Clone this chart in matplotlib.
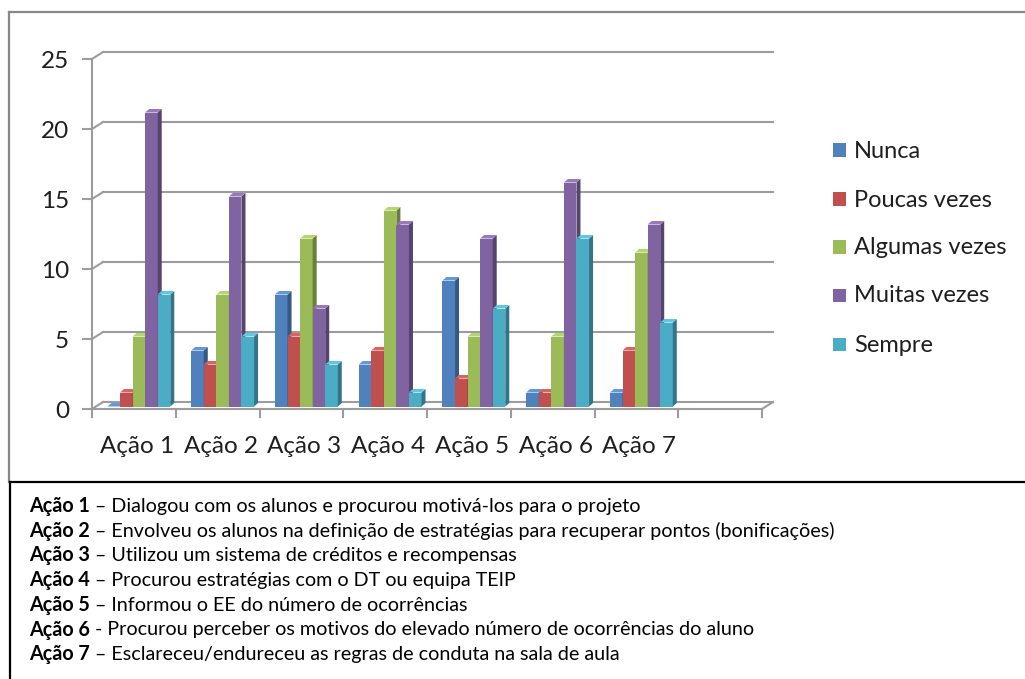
import matplotlib
matplotlib.use('Agg')
import matplotlib.pyplot as plt
from matplotlib.patches import Polygon, Rectangle
from matplotlib.lines import Line2D
import matplotlib.colors as mcolors
import numpy as np

# ---------------- data ----------------
categories = ['Ação 1', 'Ação 2', 'Ação 3', 'Ação 4', 'Ação 5', 'Ação 6', 'Ação 7']
series_names = ['Nunca', 'Poucas vezes', 'Algumas vezes', 'Muitas vezes', 'Sempre']
nunca = [0, 4, 8, 3, 9, 1, 1]
poucas_vezes = [1, 3, 5, 4, 2, 1, 4]
algumas_vezes = [5, 8, 12, 14, 5, 5, 11]
muitas_vezes = [21, 15, 7, 13, 12, 16, 13]
sempre = [8, 5, 3, 1, 7, 12, 6]
y_ticks = [0, 5, 10, 15, 20, 25]
colors = ['#4F81BD', '#C0504D', '#9BBB59', '#8064A2', '#4BACC6']
desc_heads = ['Ação 1', 'Ação 2', 'Ação 3', 'Ação 4', 'Ação 5', 'Ação 6', 'Ação 7']
desc_texts = [
    ' – Dialogou com os alunos e procurou motivá-los para o projeto',
    ' – Envolveu os alunos na definição de estratégias para recuperar pontos (bonificações)',
    ' – Utilizou um sistema de créditos e recompensas',
    ' – Procurou estratégias com o DT ou equipa TEIP',
    ' – Informou o EE do número de ocorrências',
    ' - Procurou perceber os motivos do elevado número de ocorrências do aluno',
    ' – Esclareceu/endureceu as regras de conduta na sala de aula',
]
series = [nunca, poucas_vezes, algumas_vezes, muitas_vezes, sempre]

plt.rcParams['font.family'] = ['Lato', 'DejaVu Sans']

W, H = 1025, 679
fig = plt.figure(figsize=(W / 100, H / 100), dpi=100)

# front plane of the 3D plot area (pixels)
x0p, x1p, y0p, y1p = 92, 762, 409, 59
ax = fig.add_axes([x0p / W, 1 - y0p / H, (x1p - x0p) / W, (y0p - y1p) / H])
n_slots = 8
ymax = 25
ax.set_xlim(0, n_slots)
ax.set_ylim(0, ymax)
ax.axis('off')

ux = n_slots / (x1p - x0p)   # data units per pixel (x)
uy = ymax / (y0p - y1p)      # data units per pixel (y)

grid_c = '#9c9c9c'
txt_c = '#1e1e1e'
lw = 1.5
bdx, bdy = 11 * ux, 7 * uy   # back-wall offset

# back wall gridlines and left diagonals
for v in y_ticks:
    ax.add_line(Line2D([bdx, n_slots + bdx], [v + bdy, v + bdy], color=grid_c, lw=lw, zorder=1, clip_on=False))
    ax.add_line(Line2D([0, bdx], [v, v], color=grid_c, lw=0, zorder=1, clip_on=False))
    ax.add_line(Line2D([0, bdx], [v, v + bdy], color=grid_c, lw=lw, zorder=1, clip_on=False))
    ax.add_line(Line2D([-9 * ux, 0], [v, v], color=grid_c, lw=lw, zorder=1, clip_on=False))
    ax.text(-23 * ux, v - 2 * uy, str(v), ha='right', va='center', fontsize=17.5, color=txt_c)

# left axis line
ax.add_line(Line2D([0, 0], [0, ymax], color=grid_c, lw=lw, zorder=1, clip_on=False))
# floor front edge, right diagonal
ax.add_line(Line2D([0, n_slots], [0, 0], color=grid_c, lw=lw, zorder=2, clip_on=False))
ax.add_line(Line2D([n_slots, n_slots + bdx], [0, bdy], color=grid_c, lw=lw, zorder=2, clip_on=False))
# x ticks
for k in range(n_slots + 1):
    ax.add_line(Line2D([k, k], [0, -8 * uy], color=grid_c, lw=lw, zorder=2, clip_on=False))

# bars
bw = 0.15
offx, offy = 5 * ux, 2.5 * uy
ddx, ddy = 4 * ux, 3.5 * uy
z = 3
for i, cat in enumerate(categories):
    start = i + (1 - bw * len(series)) / 2 + offx
    for j, vals in enumerate(series):
        v = vals[i]
        xl = start + j * bw
        xr = xl + bw
        c = colors[j]
        rgb = np.array(mcolors.to_rgb(c))
        side = rgb * 0.68
        top = np.clip(rgb * 1.08 + 0.05, 0, 1)
        ax.bar(xl, v, width=bw, bottom=offy, align='edge', color=c, zorder=z, lw=0)
        ax.add_patch(Polygon([(xr, offy), (xr, offy + v), (xr + ddx, offy + v + ddy), (xr + ddx, offy + ddy)],
                             closed=True, facecolor=side, edgecolor='none', zorder=z))
        ax.add_patch(Polygon([(xl, offy + v), (xr, offy + v), (xr + ddx, offy + v + ddy), (xl + ddx, offy + v + ddy)],
                             closed=True, facecolor=top, edgecolor='none', zorder=z))
        z += 1
    ax.text(i + 0.5 + 3 * ux, -44 * uy, cat, ha='center', va='baseline', fontsize=17.5, color=txt_c)

# legend
leg_x = 833
leg_ys = [150, 199, 247, 295, 344]
for name, c, ly in zip(series_names, colors, leg_ys):
    fig.patches.append(Rectangle((leg_x / W, 1 - (ly + 6.5) / H), 13 / W, 13 / H,
                                 transform=fig.transFigure, facecolor=c, edgecolor='none'))
    fig.text(854 / W, 1 - (ly + 1) / H, name, ha='left', va='center', fontsize=17, color=txt_c)

# chart borders
fig.add_artist(Line2D([9 / W, 1], [1 - 12 / H, 1 - 12 / H], transform=fig.transFigure, color='#888888', lw=1.6))
fig.add_artist(Line2D([9 / W, 9 / W], [1 - 12 / H, 1 - 482 / H], transform=fig.transFigure, color='#888888', lw=1.6))
fig.add_artist(Line2D([10 / W, 1], [1 - 482 / H, 1 - 482 / H], transform=fig.transFigure, color='black', lw=1.6))
fig.add_artist(Line2D([10 / W, 10 / W], [1 - 482 / H, 0], transform=fig.transFigure, color='black', lw=1.6))

# descriptions
renderer = fig.canvas.get_renderer()
line_y0, line_dy = 512, 24.7
for k, (hd, tx) in enumerate(zip(desc_heads, desc_texts)):
    yy = 1 - (line_y0 + k * line_dy) / H
    t = fig.text(29 / W, yy, hd, ha='left', va='baseline', fontsize=14.2, fontweight='bold', color='black')
    wpx = t.get_window_extent(renderer=renderer).width
    fig.text(29 / W + wpx / W, yy, tx, ha='left', va='baseline', fontsize=14.2, color='black')

fig.savefig('out.png', dpi=100)
